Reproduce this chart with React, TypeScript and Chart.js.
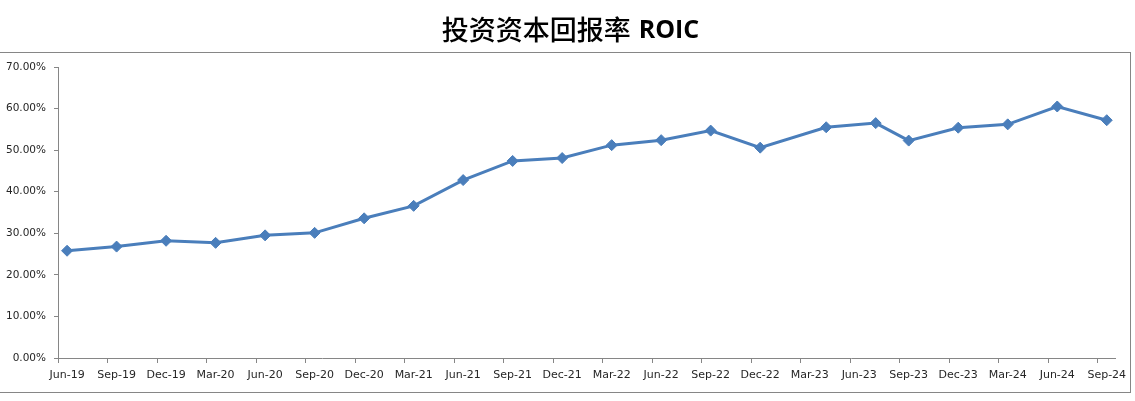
import React, { useEffect, useRef } from "react";
import { Chart, registerables } from "chart.js";

Chart.register(...registerables);

const quarterLabels = [
  "Jun-19", "Sep-19", "Dec-19", "Mar-20", "Jun-20", "Sep-20", "Dec-20", "Mar-21",
  "Jun-21", "Sep-21", "Dec-21", "Mar-22", "Jun-22", "Sep-22", "Dec-22", "Mar-23",
  "Jun-23", "Sep-23", "Dec-23", "Mar-24", "Jun-24", "Sep-24",
];

// Report dates of each ROIC observation (Excel date axis)
const reportDates = [
  "2019-06", "2019-09", "2019-12", "2020-03", "2020-06", "2020-09", "2020-12", "2021-03",
  "2021-06", "2021-09", "2021-12", "2022-03", "2022-06", "2022-09", "2022-12", "2023-04",
  "2023-07", "2023-09", "2023-12", "2024-03", "2024-06", "2024-09",
];

const roicValues = [
  25.8, 26.8, 28.2, 27.7, 29.5, 30.1, 33.6, 36.6, 42.8, 47.4, 48.1, 51.2, 52.4, 54.7,
  50.6, 55.5, 56.5, 52.3, 55.4, 56.2, 60.5, 57.2,
];

const yTicks = [0, 10, 20, 30, 40, 50, 60, 70];

const titleCJK = "投资资本回报率";
const titleLatin = "ROIC";

const startYear = 2019;
const startMonth = 6;
const monthOffset = (d: string) => {
  const [y, m] = d.split("-").map(Number);
  return (y - startYear) * 12 + (m - startMonth);
};

const AXIS_COLOR = "#868686";
const LINE_COLOR = "#4A7EBB";
const TEXT_COLOR = "#262626";

export default function App() {
  const ref = useRef<HTMLCanvasElement>(null);

  useEffect(() => {
    if (!ref.current) return;

    const framePlugin = {
      id: "frameAndTitle",
      beforeDraw(chart: any) {
        const c = chart.ctx;
        c.save();
        c.fillStyle = "#ffffff";
        c.fillRect(0, 0, chart.width, chart.height);
        c.strokeStyle = AXIS_COLOR;
        c.lineWidth = 1;
        c.strokeRect(-2, 52.5, 1132.5, 340);
        c.restore();
      },
      afterDraw(chart: any) {
        const c = chart.ctx;
        c.save();
        const cjkFont = "500 27px 'Noto Sans CJK SC'";
        const latFont = "bold 25px 'Open Sans', 'Liberation Sans', sans-serif";
        c.font = cjkFont;
        const w1 = c.measureText(titleCJK).width + 8;
        c.font = latFont;
        const w2 = c.measureText(titleLatin).width;
        const x0 = chart.width / 2 + 3 - (w1 + w2) / 2;
        c.fillStyle = "#000000";
        c.textBaseline = "middle";
        c.textAlign = "left";
        c.font = cjkFont;
        c.fillText(titleCJK, x0, 30);
        c.font = latFont;
        c.fillText(titleLatin, x0 + w1, 31);
        c.restore();
      },
    };

    const points = reportDates.map((d, i) => ({ x: monthOffset(d), y: roicValues[i] }));
    const tickShift = 0.55;

    const chart = new Chart(ref.current, {
      type: "line",
      data: {
        datasets: [
          {
            data: points,
            borderColor: LINE_COLOR,
            backgroundColor: LINE_COLOR,
            borderWidth: 3,
            pointStyle: "rectRot",
            pointRadius: 5.5,
            pointBorderWidth: 1,
            pointBackgroundColor: LINE_COLOR,
            pointBorderColor: LINE_COLOR,
            tension: 0,
          },
        ],
      },
      options: {
        responsive: false,
        animation: false,
        layout: { padding: { top: 67, left: 0, right: 20, bottom: 0 } },
        plugins: {
          legend: { display: false },
          tooltip: { enabled: false },
          title: { display: false },
        },
        scales: {
          x: {
            type: "linear",
            min: -tickShift,
            max: (quarterLabels.length - 1) * 3 + 0.5,
            afterBuildTicks: (scale: any) => {
              const t: any[] = [];
              quarterLabels.forEach((_, i) => {
                t.push({ value: i * 3 - tickShift });
                t.push({ value: i * 3 });
              });
              scale.ticks = t;
            },
            afterFit: (scale: any) => {
              scale.height = 43;
            },
            ticks: {
              autoSkip: false,
              maxRotation: 0,
              minRotation: 0,
              padding: 6,
              color: TEXT_COLOR,
              font: { family: "'DejaVu Sans'", size: 11 },
              callback: (_v: any, idx: number) =>
                idx % 2 === 1 ? quarterLabels[(idx - 1) / 2] : "",
            },
            grid: {
              drawOnChartArea: false,
              drawTicks: true,
              tickLength: 5,
              tickColor: (ctx: any) => (ctx.index % 2 === 0 ? AXIS_COLOR : "rgba(0,0,0,0)"),
            },
            border: { display: true, color: AXIS_COLOR, width: 1 },
          },
          y: {
            min: 0,
            max: 70,
            afterBuildTicks: (scale: any) => {
              scale.ticks = yTicks.map((v) => ({ value: v }));
            },
            afterFit: (scale: any) => {
              scale.width = 58;
            },
            ticks: {
              padding: 8,
              color: TEXT_COLOR,
              font: { family: "'DejaVu Sans'", size: 10.5 },
              callback: (v: any) => Number(v).toFixed(2) + "%",
            },
            grid: {
              drawOnChartArea: false,
              drawTicks: true,
              tickLength: 4,
              tickColor: AXIS_COLOR,
            },
            border: { display: true, color: AXIS_COLOR, width: 1 },
          },
        },
      },
      plugins: [framePlugin],
    } as any);

    return () => chart.destroy();
  }, []);

  return (
    <div style={{ position: "absolute", left: 0, top: 0, width: 1135, height: 401, background: "#fff" }}>
      <canvas ref={ref} width={1135} height={401} style={{ display: "block" }} />
    </div>
  );
}
